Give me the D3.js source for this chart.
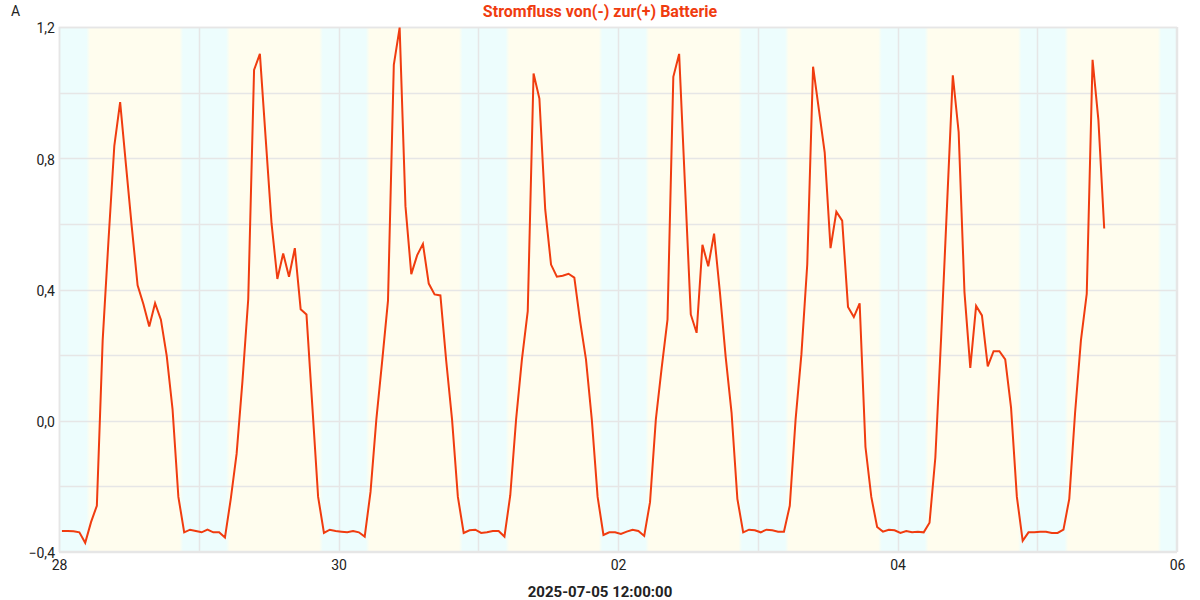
<!DOCTYPE html>
<html>
<head>
<meta charset="utf-8">
<script src="https://cdn.jsdelivr.net/npm/d3@7"></script>
<style>
  html, body { margin: 0; padding: 0; background: #fff; }
  svg { display: block; font-family: Roboto, "Noto Sans", sans-serif; }
</style>
</head>
<body>
<svg id="chart" width="1200" height="600"></svg>
<script>
// ---- data (hourly readings, timestamps at HH:30) ----
const seriesStart = new Date(2025, 5, 28, 0, 30);
const jun28 = [-0.336,-0.336,-0.337,-0.340,-0.372,-0.309,-0.259,0.245,0.550,0.838,0.971,0.780,0.591,0.413,0.355,0.287,0.358,0.308,0.198,0.035,-0.232,-0.340,-0.332,-0.336];
const jun29 = [-0.340,-0.332,-0.340,-0.340,-0.356,-0.238,-0.101,0.119,0.371,1.069,1.118,0.859,0.602,0.432,0.510,0.439,0.526,0.340,0.324,0.046,-0.232,-0.342,-0.332,-0.336];
const jun30 = [-0.338,-0.340,-0.336,-0.340,-0.353,-0.217,0.004,0.182,0.366,1.085,1.198,0.654,0.447,0.504,0.539,0.418,0.385,0.382,0.182,0.004,-0.232,-0.342,-0.334,-0.332];
const jul01 = [-0.342,-0.340,-0.336,-0.336,-0.353,-0.227,0.004,0.187,0.334,1.058,0.982,0.644,0.476,0.439,0.442,0.448,0.436,0.303,0.187,0.004,-0.232,-0.348,-0.340,-0.340];
const jul02 = [-0.345,-0.338,-0.332,-0.336,-0.351,-0.248,0.004,0.161,0.308,1.048,1.118,0.720,0.324,0.268,0.536,0.471,0.570,0.392,0.193,0.025,-0.238,-0.340,-0.332,-0.334];
const jul03 = [-0.340,-0.332,-0.334,-0.338,-0.338,-0.259,0.004,0.203,0.476,1.079,0.948,0.817,0.526,0.637,0.610,0.347,0.316,0.358,-0.080,-0.232,-0.324,-0.338,-0.332,-0.334];
const jul04 = [-0.342,-0.336,-0.340,-0.338,-0.340,-0.311,-0.112,0.256,0.654,1.053,0.880,0.392,0.161,0.350,0.321,0.166,0.212,0.212,0.187,0.040,-0.232,-0.366,-0.340,-0.340];
const jul05 = [-0.338,-0.338,-0.342,-0.342,-0.332,-0.238,0.025,0.245,0.387,1.100,0.917,0.586];

// day/night periods (hour of day)
const sunriseHour = 5.0;
const sunsetHour = 21.0;
const dayStarts = ["2025-06-28","2025-06-29","2025-06-30","2025-07-01","2025-07-02","2025-07-03","2025-07-04","2025-07-05"];

const xTickDays = ["2025-06-28","2025-06-30","2025-07-02","2025-07-04","2025-07-06"];
const yTicks = [-0.4, 0.0, 0.4, 0.8, 1.2];
const yGrid = [-0.4,-0.2,0.0,0.2,0.4,0.6,0.8,1.0,1.2];
const titleText = "Stromfluss von(-) zur(+) Batterie";
const unitText = "A";
const xTitleText = "2025-07-05 12:00:00";

(function () {
const parseDay = s => { const [Y, M, D] = s.split("-").map(Number); return new Date(Y, M - 1, D); };

// ---- build rows ----
const allValues = [].concat(jun28, jun29, jun30, jul01, jul02, jul03, jul04, jul05);
const rows = allValues.map((v, i) => ({ t: new Date(seriesStart.getTime() + i * 3600e3), v }));

const accent = "#f03c0f";
const gridColor = "#e6e6e6";
const nightColor = "#edfdfd";
const dayColor = "#fffdee";

const pL = 59, pR = 1177, pT = 27, pB = 552;
const svg = d3.select("#chart");

const x = d3.scaleTime()
  .domain([new Date(2025, 5, 28), new Date(2025, 6, 6)])
  .range([pL, pR]);
const y = d3.scaleLinear().domain([-0.4, 1.2]).range([pB, pT]);

const de = d3.formatLocale({ decimal: ",", thousands: ".", grouping: [3], currency: ["", " €"] });
const fmt = de.format(".1f");

// background gradient for day/night
const defs = svg.append("defs");
const grad = defs.append("linearGradient")
  .attr("id", "daynight")
  .attr("gradientUnits", "userSpaceOnUse")
  .attr("x1", pL).attr("x2", pR).attr("y1", 0).attr("y2", 0);
const W = pR - pL;
const half = 0.3;
const stops = [{ o: 0, c: nightColor }];
dayStarts.forEach(ds => {
  const base = parseDay(ds).getTime();
  const at = h => (x(new Date(base + h * 3600e3)) - pL) / W;
  stops.push({ o: at(sunriseHour - half), c: nightColor });
  stops.push({ o: at(sunriseHour + half), c: dayColor });
  stops.push({ o: at(sunsetHour - half), c: dayColor });
  stops.push({ o: at(sunsetHour + half), c: nightColor });
});
stops.push({ o: 1, c: nightColor });
grad.selectAll("stop").data(stops).join("stop")
  .attr("offset", d => Math.max(0, Math.min(1, d.o)))
  .attr("stop-color", d => d.c);

svg.append("rect")
  .attr("x", pL).attr("y", pT)
  .attr("width", W).attr("height", pB - pT)
  .attr("fill", "url(#daynight)");

// grid
svg.append("g").selectAll("line").data(yGrid).join("line")
  .attr("x1", pL).attr("x2", pR)
  .attr("y1", d => Math.round(y(d)) + 0.5).attr("y2", d => Math.round(y(d)) + 0.5)
  .attr("stroke", gridColor).attr("stroke-width", 1.5);
svg.append("g").selectAll("line").data(x.ticks(d3.timeDay.every(1))).join("line")
  .attr("y1", pT).attr("y2", pB)
  .attr("x1", d => Math.round(x(d)) + 0.5).attr("x2", d => Math.round(x(d)) + 0.5)
  .attr("stroke", gridColor).attr("stroke-width", 1.5);

// frame
svg.append("rect")
  .attr("x", pL + 0.5).attr("y", pT + 0.5)
  .attr("width", W - 1).attr("height", pB - pT - 1)
  .attr("fill", "none").attr("stroke", gridColor).attr("stroke-width", 1.5);

// line
const line = d3.line().x(d => x(d.t)).y(d => y(d.v));
svg.append("path").datum(rows)
  .attr("d", line)
  .attr("fill", "none")
  .attr("stroke", accent)
  .attr("stroke-width", 2)
  .attr("stroke-linejoin", "miter");

// axes
const yAxis = d3.axisLeft(y).tickValues(yTicks).tickFormat(fmt).tickSize(0).tickPadding(4);
const gy = svg.append("g").attr("transform", `translate(${pL},0)`).call(yAxis);
gy.select(".domain").remove();
gy.selectAll("text").attr("font-size", 14).attr("fill", "#222").attr("font-family", "Roboto").attr("dy", "0.42em");

const xAxis = d3.axisBottom(x).tickValues(xTickDays.map(parseDay)).tickFormat(d3.timeFormat("%d")).tickSize(0).tickPadding(8);
const gx = svg.append("g").attr("transform", `translate(0,${pB})`).call(xAxis);
gx.select(".domain").remove();
gx.selectAll("text").attr("font-size", 14).attr("fill", "#222").attr("font-family", "Roboto");

// texts
svg.append("text").attr("x", 600).attr("y", 17)
  .attr("text-anchor", "middle").attr("font-size", 16).attr("font-weight", "bold")
  .attr("fill", accent).text(titleText);
svg.append("text").attr("x", 11).attr("y", 16)
  .attr("font-size", 14).attr("fill", "#222").text(unitText);
svg.append("text").attr("x", 600).attr("y", 597)
  .attr("text-anchor", "middle").attr("font-size", 15).attr("font-weight", "bold")
  .attr("fill", "#222").text(xTitleText);
})();
</script>
</body>
</html>
